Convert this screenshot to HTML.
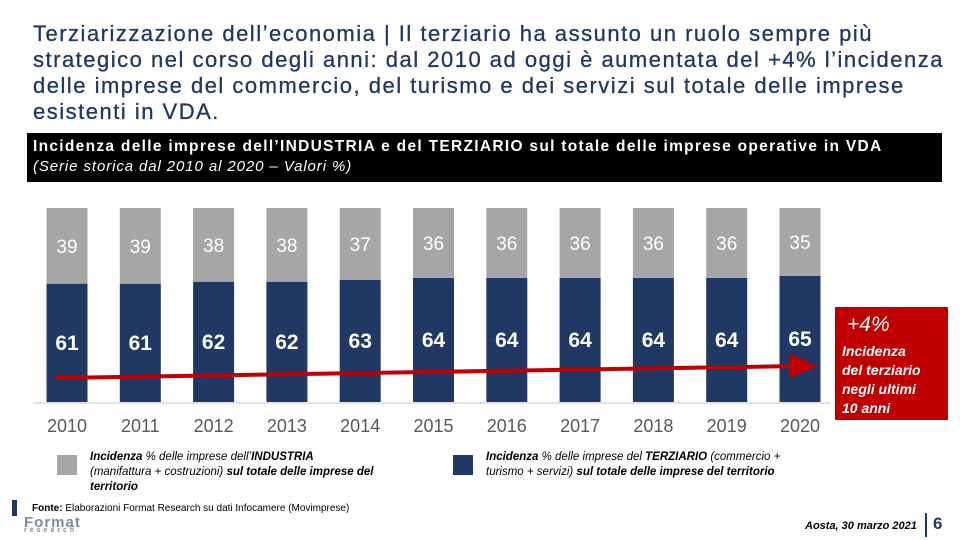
<!DOCTYPE html>
<html><head><meta charset="utf-8"><style>
body{margin:0;width:960px;height:540px;background:#fff;overflow:hidden;font-family:"Liberation Sans",sans-serif;position:relative}
.abs{position:absolute}
#title{left:33px;top:21px;width:925px;font-size:22px;line-height:26px;color:#1f3864;letter-spacing:1.5px;white-space:nowrap;-webkit-text-stroke:0.3px #1f3864}
#hdr{left:27px;top:133px;width:915px;height:49px;background:#000;color:#fff}
#leg1,#leg2{font-size:11.5px;line-height:15px;color:#000;font-style:italic}
</style></head><body>
<div id="title" class="abs">Terziarizzazione dell’economia | Il terziario ha assunto un ruolo sempre più<br>strategico nel corso degli anni: dal 2010 ad oggi è aumentata del +4% l’incidenza<br>delle imprese del commercio, del turismo e dei servizi sul totale delle imprese<br>esistenti in VDA.</div>
<div id="hdr" class="abs">
<div style="position:absolute;left:6px;top:5px;font-size:15.5px;font-weight:bold;letter-spacing:1.3px;white-space:nowrap">Incidenza delle imprese dell’INDUSTRIA e del TERZIARIO sul totale delle imprese operative in VDA</div>
<div style="position:absolute;left:6px;top:25px;font-size:15px;font-style:italic;letter-spacing:0.9px">(Serie storica dal 2010 al 2020 – Valori %)</div>
</div>
<svg id="chart" class="abs" style="left:0;top:0" width="960" height="540"></svg>
<div class="abs" style="left:835px;top:307px;width:113px;height:113px;background:#c00000;color:#fff;font-style:italic;font-weight:bold">
<div style="position:absolute;left:12px;top:6px;font-size:21px;font-weight:normal">+4%</div>
<div style="position:absolute;left:7px;top:35px;font-size:14px;line-height:19px">Incidenza<br>del terziario<br>negli ultimi<br>10 anni</div>
</div>
<div class="abs" style="left:57px;top:455px;width:20px;height:20px;background:#a6a6a6"></div>
<div id="leg1" class="abs" style="left:90px;top:450px;width:320px"><b>Incidenza</b> % delle imprese dell’<b>INDUSTRIA</b><br>(manifattura + costruzioni) <b>sul totale delle imprese del territorio</b></div>
<div class="abs" style="left:453px;top:455px;width:20px;height:20px;background:#1f3864"></div>
<div id="leg2" class="abs" style="left:486px;top:450px;width:345px"><b>Incidenza</b> % delle imprese del <b>TERZIARIO</b> (commercio +<br>turismo + servizi) <b>sul totale delle imprese del territorio</b></div>
<div class="abs" style="left:12px;top:500px;width:5px;height:16px;background:#1f3864"></div>
<div class="abs" style="left:32px;top:503px;font-size:10px"><b>Fonte:</b> Elaborazioni Format Research su dati Infocamere (Movimprese)</div>
<div class="abs" style="left:24px;top:514px;font-size:15px;color:#7f8c9a;font-weight:bold;letter-spacing:1px">Format<div style="font-size:7px;letter-spacing:3px;margin-top:-4px">research</div></div>
<div class="abs" style="left:805px;top:520px;font-size:11px;font-style:italic;font-weight:bold">Aosta, 30 marzo 2021</div>
<div class="abs" style="left:925px;top:513px;width:2px;height:24px;background:#1f3864"></div>
<div class="abs" style="left:933px;top:514px;font-size:17px;font-weight:bold;color:#1f3864">6</div>
<script>
const years=["2010","2011","2012","2013","2014","2015","2016","2017","2018","2019","2020"];
const industria=[39,39,38,38,37,36,36,36,36,36,35];
const terziario=[61,61,62,62,63,64,64,64,64,64,65];
const svg=document.getElementById('chart');const NS='http://www.w3.org/2000/svg';
const x0=67,step=73.3,bw=41,baseY=402,topY=208;
const xs=i=>x0+i*step;const ys=v=>(baseY-topY)*v/100;
function mk(t,a){const e=document.createElementNS(NS,t);for(const k in a)e.setAttribute(k,a[k]);svg.appendChild(e);return e;}
const ax=mk('line',{x1:33,x2:830,y1:baseY+1,y2:baseY+1,stroke:'#d9d9d9','stroke-width':1.5});


years.forEach((y,i)=>{
 const cx=xs(i);const hn=ys(terziario[i]);const hg=ys(industria[i]);
 const n=mk('rect',{x:cx-bw/2,y:baseY-hn,width:bw,height:hn,fill:'#1f3864'});
 
 
 const g=mk('rect',{x:cx-bw/2,y:baseY-hn-hg,width:bw,height:hg,fill:'#a6a6a6'});
 
 
 const tg=mk('text',{x:cx,y:baseY-hn-hg/2+7,'text-anchor':'middle',fill:'#fff','font-size':19,'font-family':'Liberation Sans, sans-serif'});tg.textContent=industria[i];
 
 
 const tn=mk('text',{x:cx,y:baseY-hn/2+7,'text-anchor':'middle',fill:'#fff','font-size':21,'font-weight':'bold','font-family':'Liberation Sans, sans-serif'});tn.textContent=terziario[i];
 
 
 const ty=mk('text',{x:cx,y:432,'text-anchor':'middle',fill:'#595959','font-size':18,'font-family':'Liberation Sans, sans-serif'});ty.textContent=y;
 
 
});
const ar=mk('line',{x1:55,y1:378,x2:800,y2:366,stroke:'#c00000','stroke-width':4});


const ah=mk('polygon',{points:'790,354 818,366 790,378',fill:'#c00000'});


</script>
</body></html>
